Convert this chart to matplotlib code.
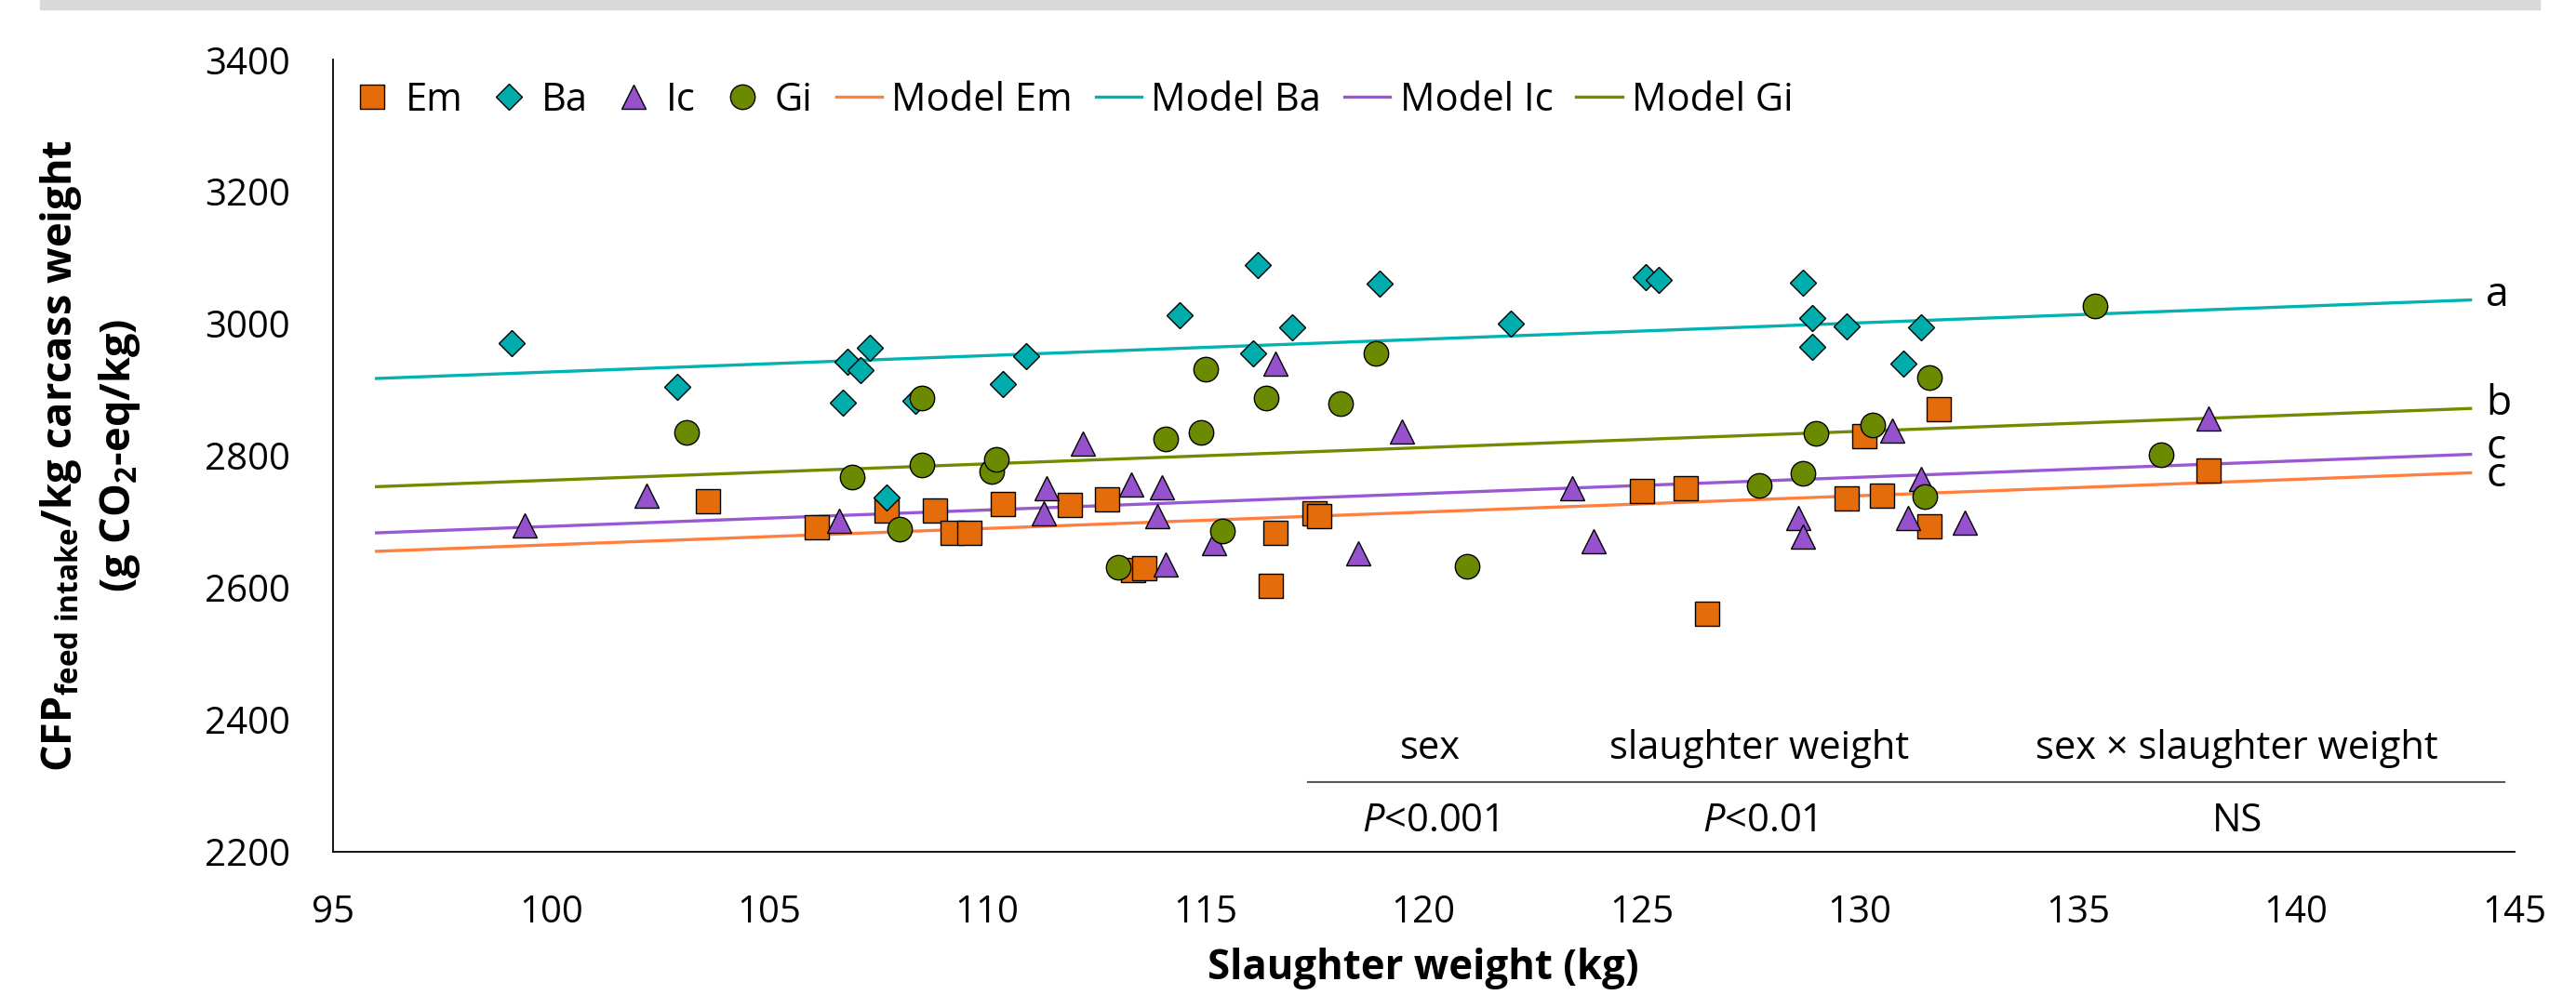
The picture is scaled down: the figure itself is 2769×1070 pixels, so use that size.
import matplotlib
matplotlib.use("Agg")
import matplotlib.pyplot as plt
from matplotlib.patches import Rectangle

plt.rcParams['font.family'] = ['Open Sans', 'DejaVu Sans']
plt.rcParams['mathtext.fontset'] = 'custom'
plt.rcParams['mathtext.rm'] = 'Open Sans:bold'
plt.rcParams['mathtext.bf'] = 'Open Sans:bold'
plt.rcParams['mathtext.it'] = 'Open Sans:italic'

# slaughter weight (kg) / CFP (g CO2-eq/kg)
em_x = [103.6, 106.1, 107.7, 108.8, 109.2, 109.6, 110.35, 111.9, 112.75, 113.35, 113.6, 116.5,
        116.6, 117.5, 117.6, 125.0, 126.0, 126.5, 129.7, 130.1, 130.5, 131.6, 131.8, 138.0]
em_y = [2731, 2692, 2717, 2717, 2683, 2683, 2727, 2725, 2734, 2627, 2629, 2603,
        2683, 2713, 2709, 2746, 2750, 2560, 2735, 2830, 2740, 2693, 2871, 2777]

ba_x = [99.1, 102.9, 106.7, 106.8, 107.1, 107.3, 107.7, 108.35, 110.35, 110.9, 114.4, 116.1,
        116.2, 117.0, 119.0, 122.0, 125.1, 125.4, 128.7, 128.9, 128.9, 129.7, 131.0, 131.4]
ba_y = [2971, 2905, 2880, 2942, 2930, 2963, 2736, 2883, 2908, 2951, 3013, 2955,
        3089, 2995, 3061, 3000, 3070, 3067, 3062, 3009, 2965, 2996, 2940, 2995]

ic_x = [99.4, 102.2, 106.6, 111.35, 111.3, 112.2, 113.3, 113.9, 114.0, 114.1, 115.2, 116.6,
        118.5, 119.5, 123.4, 123.9, 128.6, 128.7, 130.75, 131.1, 131.4, 132.4, 138.0]
ic_y = [2694, 2739, 2701, 2751, 2713, 2819, 2757, 2708, 2752, 2635, 2668, 2939,
        2652, 2837, 2750, 2671, 2706, 2677, 2838, 2706, 2765, 2699, 2857]

gi_x = [103.1, 106.9, 108.0, 108.5, 108.5, 110.1, 110.2, 113.0, 114.1, 114.9, 115.0, 115.4,
        116.4, 118.1, 118.9, 121.0, 127.7, 128.7, 129.0, 130.3, 131.5, 131.6, 135.4, 136.9]
gi_y = [2835, 2768, 2688, 2888, 2786, 2776, 2794, 2631, 2826, 2835, 2931, 2686,
        2887, 2879, 2955, 2632, 2755, 2773, 2834, 2847, 2738, 2918, 3027, 2801]

model_x = [96, 144]
model_em = [2655, 2774]
model_ba = [2917, 3036]
model_ic = [2683, 2802]
model_gi = [2753, 2871.5]

groups = ['Em', 'Ba', 'Ic', 'Gi']
letters = ['a', 'b', 'c', 'c']
letter_y = [3043, 2878, 2812, 2770]

effects = ['sex', 'slaughter weight', 'sex \u00d7 slaughter weight']
p_values = ['$P$<0.001', '$P$<0.01', 'NS']

fig = plt.figure(figsize=(27.69, 10.70), dpi=100)
fig.patches.append(Rectangle((43 / 2769, 1 - 10 / 1070), 2687 / 2769, 10 / 1070,
                             transform=fig.transFigure, color='#d9d9d9', zorder=0))
ax = fig.add_axes([0.1292, 0.1442, 0.8468, 0.7957])

point_style = [('s', 19, '#E46C0A'), ('D', 14, '#00ADAD'), ('^', 19, '#9652CC'), ('o', 19, '#6B8A00')]
line_colors = ['#FF7F3F', '#00B2B2', '#9A57D4', '#718C00']
xs = [em_x, ba_x, ic_x, gi_x]
ys = [em_y, ba_y, ic_y, gi_y]
models = [model_em, model_ba, model_ic, model_gi]

for name, x, y, (mk, ms, col) in zip(groups, xs, ys, point_style):
    ax.plot(x, y, ls='none', marker=mk, ms=ms, mfc=col, mec='black', mew=1.0,
            zorder=3, label=name)
for name, m, col in zip(groups, models, line_colors):
    ax.plot(model_x, m, color=col, lw=2.4, zorder=2, label='Model ' + name)

for let, ly in zip(letters, letter_y):
    ax.text(144.35, ly, let, fontsize=32, ha='left', va='center')

ax.set_xlim(95, 145)
ax.set_ylim(2200, 3400)
ax.set_xticks(range(95, 146, 5))
ax.set_yticks(range(2200, 3401, 200))
ax.tick_params(length=0, pad=33, labelsize=29)
for s in ['top', 'right']:
    ax.spines[s].set_visible(False)
for s in ['left', 'bottom']:
    ax.spines[s].set_linewidth(1.3)

ax.legend(loc='center left', bbox_to_anchor=(0.0077, 0.9487), ncol=8, frameon=False,
          fontsize=30, handlelength=1.18, handletextpad=0.25, columnspacing=0.6,
          borderpad=0, borderaxespad=0, numpoints=1)

# small stats table in the lower right
col_x = [0.503, 0.654, 0.873]
for cx, eff, pv in zip(col_x, effects, p_values):
    ax.text(cx, 0.130, eff, transform=ax.transAxes, ha='center', va='center', fontsize=30)
    ax.text(cx, 0.0385, pv, transform=ax.transAxes, ha='center', va='center', fontsize=30)
ax.plot([0.447, 0.9957], [0.088, 0.088], transform=ax.transAxes, color='#595959',
        lw=1.5, clip_on=False)

fig.text(0.5526, 0.0262, 'Slaughter weight (kg)', ha='center', va='center',
         fontsize=31.5, fontweight='bold')
fig.text(0.0235, 0.542, r'CFP$_{\rm feed\ intake}$/kg carcass weight', rotation=90,
         ha='center', va='center', fontsize=32.5, fontweight='bold')
fig.text(0.0465, 0.542, r'(g CO$_{\rm 2}$-eq/kg)', rotation=90,
         ha='center', va='center', fontsize=32.5, fontweight='bold')

fig.savefig('out.png', dpi=100)
